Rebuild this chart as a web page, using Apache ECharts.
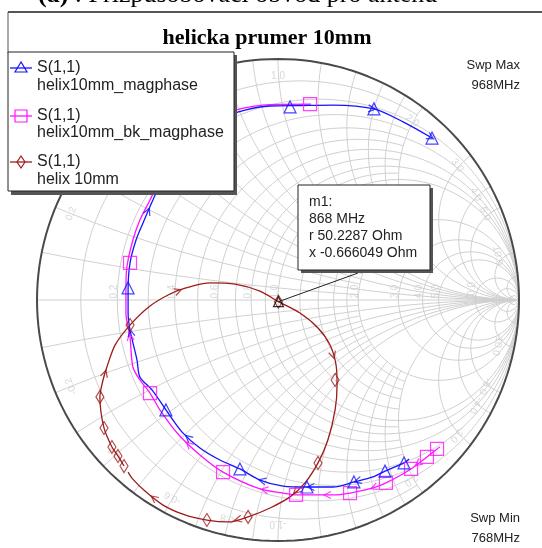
<!DOCTYPE html>
<html><head><meta charset="utf-8">
<script src="https://cdn.jsdelivr.net/npm/echarts@6/dist/echarts.min.js"></script>
<style>html,body{margin:0;padding:0;background:#fff;}#c{width:542px;height:548px;}</style>
</head><body><div id="c"></div>
<script>
// ---------- data (reflection coefficient, re / im) ----------
const chartTitle = 'helicka prumer 10mm';
const headerLabel = '(a)';
const headerText = ' : Přizpůsobovací obvod pro anténu';
const legendNames = [['S(1,1)','helix10mm_magphase'],['S(1,1)','helix10mm_bk_magphase'],['S(1,1)','helix 10mm']];
const sweepMax = ['Swp Max','968MHz'];
const sweepMin = ['Swp Min','768MHz'];
const markerText = ['m1:','868 MHz','r 50.2287 Ohm','x -0.666049 Ohm'];
const markerGamma = [0.002,-0.007];

const blueCurve = [[0.544,-0.660],[0.523,-0.676],[0.444,-0.710],[0.394,-0.734],[0.315,-0.755],[0.228,-0.776],[0.120,-0.776],[0.021,-0.772],[-0.075,-0.747],[-0.158,-0.701],[-0.241,-0.664],[-0.324,-0.614],[-0.398,-0.548],[-0.465,-0.456],[-0.523,-0.373],[-0.573,-0.320],[-0.585,-0.249],[-0.614,-0.124],[-0.622,-0.054],[-0.622,0.041],[-0.614,0.154],[-0.589,0.249],[-0.560,0.320],[-0.519,0.415],[-0.469,0.519],[-0.407,0.614],[-0.324,0.697],[-0.232,0.755],[-0.137,0.788],[-0.033,0.805],[0.091,0.807],[0.228,0.809],[0.398,0.793],[0.519,0.739],[0.639,0.672]];
const blueMarks = [[0.523,-0.676],[0.444,-0.710],[0.315,-0.755],[0.120,-0.776],[-0.158,-0.701],[-0.465,-0.456],[-0.622,0.050],[0.050,0.801],[0.398,0.793],[0.639,0.672]];
const blueArrows = [3.8,5.85,7.9,11.65,16.9,22.5,31.95,33.95];

const pinkCurve = [[0.672,-0.610],[0.660,-0.618],[0.618,-0.651],[0.552,-0.701],[0.448,-0.759],[0.394,-0.780],[0.299,-0.801],[0.228,-0.809],[0.075,-0.809],[0.021,-0.801],[-0.075,-0.784],[-0.228,-0.714],[-0.324,-0.643],[-0.415,-0.556],[-0.490,-0.456],[-0.531,-0.386],[-0.573,-0.332],[-0.602,-0.278],[-0.614,-0.154],[-0.631,-0.054],[-0.631,0.041],[-0.627,0.137],[-0.602,0.249],[-0.573,0.332],[-0.531,0.415],[-0.481,0.519],[-0.419,0.614],[-0.336,0.697],[-0.249,0.755],[-0.158,0.793],[-0.033,0.811],[0.137,0.813]];
const pinkMarks = [[0.660,-0.618],[0.618,-0.651],[0.552,-0.701],[0.448,-0.759],[0.299,-0.801],[0.075,-0.809],[-0.228,-0.714],[-0.531,-0.386],[-0.614,0.154],[0.133,0.813]];
const pinkArrows = [2.55,4.9,7.15,9.8,12.5,18.0];

const redCurve = [[-0.639,-0.689],[-0.664,-0.647],[-0.689,-0.610],[-0.722,-0.531],[-0.739,-0.402],[-0.726,-0.332],[-0.710,-0.278],[-0.676,-0.187],[-0.614,-0.104],[-0.531,-0.025],[-0.448,0.025],[-0.382,0.050],[-0.282,0.071],[-0.178,0.066],[-0.075,0.037],[0.002,-0.007],[0.091,-0.054],[0.166,-0.116],[0.216,-0.187],[0.241,-0.270],[0.245,-0.353],[0.237,-0.456],[0.207,-0.581],[0.166,-0.676],[0.112,-0.759],[0.050,-0.817],[-0.033,-0.863],[-0.124,-0.900],[-0.207,-0.921],[-0.295,-0.913],[-0.386,-0.892],[-0.477,-0.851],[-0.552,-0.793],[-0.606,-0.739],[-0.622,-0.714]];
const redMarks = [[-0.639,-0.689],[-0.664,-0.647],[-0.689,-0.610],[-0.722,-0.531],[-0.739,-0.402],[-0.614,-0.104],[0.002,-0.007],[0.237,-0.332],[0.166,-0.676],[-0.124,-0.900],[-0.295,-0.913]];
const redArrows = [5.5,10.5,18.5,24.6,27.5,31.5];

// Smith grid definition: [value, limit of the other coordinate]
const rCircles = [[0.1,2],[0.2,Infinity],[0.3,2],[0.4,Infinity],[0.5,2],[0.6,Infinity],[0.7,2],[0.8,Infinity],[0.9,2],[1,Infinity],[1.2,2],[1.4,2],[1.6,2],[1.8,2],[2,Infinity],[3,Infinity],[4,Infinity],[5,Infinity],[10,Infinity],[20,Infinity],[50,Infinity]];
const xArcs = [[0.1,2],[0.2,Infinity],[0.3,2],[0.4,Infinity],[0.5,2],[0.6,Infinity],[0.7,2],[0.8,Infinity],[0.9,2],[1,Infinity],[1.2,2],[1.4,2],[1.6,2],[1.8,2],[2,Infinity],[3,Infinity],[4,Infinity],[5,Infinity],[10,Infinity],[20,Infinity]];
const rLabels = ['0','0.2','0.4','0.6','0.8','1.0','2.0','3.0','4.0','5.0','10.0'];
const xLabels = ['0.2','0.4','0.6','0.8','1.0','2.0','3.0','4.0','5.0','10.0'];

// ---------- helpers ----------
function gam(r,x){const d=(r+1)*(r+1)+x*x;return [(r*r-1+x*x)/d,2*x/d];}
function rCirclePts(r,xmax){const p=[];const N=180;const t=Math.atan(xmax);for(let i=0;i<=N;i++){const a=-t+2*t*i/N;p.push(gam(r,Math.tan(a)));}return p;}
function xArcPts(x,rmax){const p=[];const N=120;const t=Math.atan(rmax);for(let i=0;i<=N;i++){p.push(gam(Math.tan(t*i/N),x));}return p;}
function arrowData(c,params){return params.map(s=>{const i=Math.floor(s),t=s-i;const a=c[i],b=c[i+1];
  return {value:[a[0]+(b[0]-a[0])*t,a[1]+(b[1]-a[1])*t],symbolRotate:Math.atan2(b[1]-a[1],b[0]-a[0])*180/Math.PI};});}

const gridColor='#cfcfcf';
const series=[];
function gridLine(pts,color,width){series.push({type:'line',data:pts,showSymbol:false,symbol:'none',silent:true,animation:false,lineStyle:{color:color||gridColor,width:width||1},z:1});}
rCircles.forEach(([r,xm])=>gridLine(rCirclePts(r,xm)));
xArcs.forEach(([x,rm])=>{gridLine(xArcPts(x,rm));gridLine(xArcPts(-x,rm));});
gridLine([[-1,0],[1,0]]);
gridLine(rCirclePts(0,Infinity),'#4a4a4a',2);

// grid labels
const labelPts=[];
rLabels.forEach(s=>{const r=parseFloat(s);const g=gam(r,0);labelPts.push({value:[g[0]-0.012,0.035],name:s,rot:90});});
xLabels.forEach(s=>{const x=parseFloat(s);[1,-1].forEach(sg=>{const g=gam(0,sg*x);const k=0.93;const ang=Math.atan2(g[1],g[0])*180/Math.PI;labelPts.push({value:[g[0]*k,g[1]*k],name:(sg<0?'-':'')+s,rot:ang-90});});});
series.push({type:'scatter',silent:true,animation:false,symbolSize:0,z:2,data:labelPts.map(p=>({value:p.value,label:{show:true,formatter:p.name,rotate:p.rot,color:'#cdcdcd',fontSize:10,fontFamily:'Liberation Sans',position:'inside'}}))});

function curve(data,color,z){series.push({type:'line',data:data,smooth:0.3,symbol:'none',silent:true,animation:false,lineStyle:{color:color,width:1.3},z:z});}
function marks(data,color,sym,size,z){series.push({type:'scatter',data:data,symbol:sym,symbolSize:size,silent:true,animation:false,itemStyle:{color:'rgba(0,0,0,0)',borderColor:color,borderWidth:1.2},z:z});}
const BLUE='#1414ff',PINK='#ff14ff',RED='#9c1c1c';
curve(pinkCurve,PINK,5);curve(blueCurve,BLUE,6);curve(redCurve,RED,7);
const ARROW='path://M0,0L10,5L0,10';
marks(arrowData(pinkCurve,pinkArrows),PINK,ARROW,[7,7],8);
marks(arrowData(blueCurve,blueArrows),BLUE,ARROW,[7,7],8);
marks(arrowData(redCurve,redArrows),RED,ARROW,[7,7],8);
marks(pinkMarks,PINK,'rect',13,8);marks(blueMarks,BLUE,'triangle',12,9);marks(redMarks,RED,'diamond',[8,13],10);
marks([markerGamma],'#000','triangle',10,11);

const chart=echarts.init(document.getElementById('c'),null,{renderer:'canvas'});
chart.setOption({
  animation:false,
  grid:{left:37,top:59,width:482,height:482},
  xAxis:{type:'value',min:-1,max:1,show:false},
  yAxis:{type:'value',min:-1,max:1,show:false},
  series:series
});
const mp=chart.convertToPixel({gridIndex:0},markerGamma);
const F='Liberation Sans';
const legendIcon=(y,color,sym)=>{const els=[{type:'line',shape:{x1:10,y1:y,x2:32,y2:y},style:{stroke:color,lineWidth:1.3}}];
  if(sym==='tri')els.push({type:'polygon',shape:{points:[[21,y-6],[15,y+4],[27,y+4]]},style:{fill:'none',stroke:color,lineWidth:1.2}});
  if(sym==='rect')els.push({type:'rect',shape:{x:15,y:y-6,width:12,height:12},style:{fill:'none',stroke:color,lineWidth:1.2}});
  if(sym==='dia')els.push({type:'polygon',shape:{points:[[21,y-6],[25,y],[21,y+6],[17,y]]},style:{fill:'none',stroke:color,lineWidth:1.2}});
  return els;};
const g=[
  {type:'text',x:38,y:8,style:{text:'{b|'+headerLabel+'}'+headerText,font:'26px Liberation Serif',fill:'#000',verticalAlign:'bottom',rich:{b:{font:'bold 26px Liberation Serif'}}}},
  {type:'line',shape:{x1:8,y1:12,x2:542,y2:12},style:{stroke:'#555',lineWidth:2}},
  {type:'line',shape:{x1:8,y1:12,x2:8,y2:53},style:{stroke:'#555',lineWidth:1}},
  {type:'text',x:267,y:38,style:{text:chartTitle,font:'bold 22px Liberation Serif',fill:'#000',align:'center',verticalAlign:'middle'}},
  {type:'text',x:520,y:65,style:{text:sweepMax[0],font:'13px '+F,fill:'#222',align:'right',verticalAlign:'middle'}},
  {type:'text',x:520,y:85,style:{text:sweepMax[1],font:'13px '+F,fill:'#222',align:'right',verticalAlign:'middle'}},
  {type:'text',x:520,y:518,style:{text:sweepMin[0],font:'13px '+F,fill:'#222',align:'right',verticalAlign:'middle'}},
  {type:'text',x:520,y:538,style:{text:sweepMin[1],font:'13px '+F,fill:'#222',align:'right',verticalAlign:'middle'}},
  // legend box
  {type:'rect',shape:{x:11,y:55,width:226,height:140},style:{fill:'#555'},z:50},
  {type:'rect',shape:{x:8,y:52,width:226,height:139},style:{fill:'#fff',stroke:'#222',lineWidth:1},z:51},
  // marker callout
  {type:'line',shape:{x1:mp[0],y1:mp[1],x2:358,y2:273},style:{stroke:'#222',lineWidth:1},z:49},
  {type:'rect',shape:{x:301,y:188,width:132,height:85},style:{fill:'#555'},z:50},
  {type:'rect',shape:{x:298,y:185,width:132,height:85},style:{fill:'#fff',stroke:'#222',lineWidth:1},z:51}
];
const lg=[[68,86,BLUE,'tri'],[116,133,PINK,'rect'],[162,180,RED,'dia']];
lg.forEach((L,i)=>{legendIcon(L[0],L[2],L[3]).forEach(e=>{e.z=52;g.push(e);});
  g.push({type:'text',x:37,y:L[0],z:52,style:{text:legendNames[i][0],font:'16px '+F,fill:'#222',verticalAlign:'middle'}});
  g.push({type:'text',x:37,y:L[1],z:52,style:{text:legendNames[i][1],font:'16px '+F,fill:'#222',verticalAlign:'middle'}});});
markerText.forEach((t,i)=>g.push({type:'text',x:309,y:202+i*17,z:52,style:{text:t,font:'14px '+F,fill:'#222',verticalAlign:'middle'}}));
chart.setOption({graphic:g});
</script></body></html>
